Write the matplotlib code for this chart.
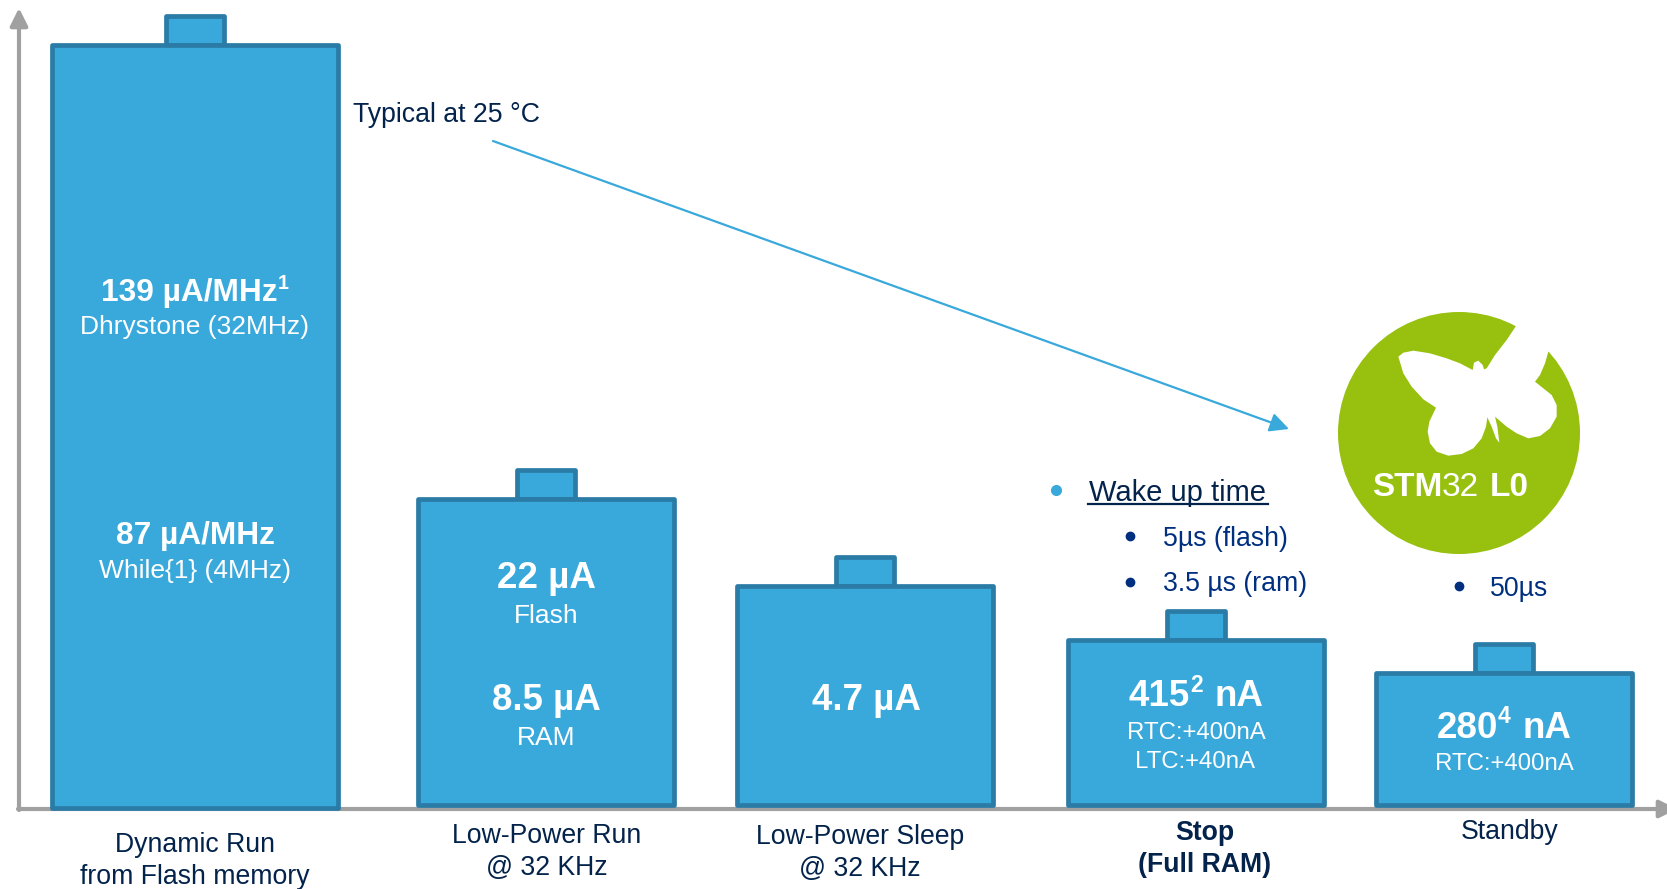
import matplotlib
matplotlib.use("Agg")
import matplotlib.pyplot as plt
from matplotlib.patches import Circle, Polygon
from matplotlib.transforms import Affine2D

W, H = 1667, 889

modes = ["Dynamic Run\nfrom Flash memory", "Low-Power Run\n@ 32 KHz", "Low-Power Sleep\n@ 32 KHz",
         "Stop\n(Full RAM)", "Standby"]
# bar heights are schematic, the chart has no numeric scale
bar_heights = [763, 306, 219.5, 165, 132]
bar_centers = [194.5, 545.5, 864.5, 1195.5, 1504]
bar_width = 256
first_bar_width = 286

BLUE = "#39A9DC"
EDGE = "#2A7CA6"
GREY = "#A0A0A0"
NAVY = "#03234B"
BULLET = "#002F80"
GREEN = "#97C10E"

plt.rcParams["font.family"] = ["Liberation Sans", "DejaVu Sans"]

fig = plt.figure(figsize=(W / 100, H / 100), dpi=100)
ax = fig.add_axes([0, 0, 1, 1])
ax.set_xlim(0, W)
ax.set_ylim(-84, 805)
ax.axis("off")

# pixel coordinates from the top left, for everything that is not a bar
px = Affine2D().scale(1 / W, -1 / H).translate(0, 1) + fig.transFigure


def arrow(start, end, color, lw, size, z=1):
    ax.annotate("", xy=end, xytext=start, xycoords=px, textcoords=px, zorder=z,
                annotation_clip=False,
                arrowprops=dict(arrowstyle=f"-|>,head_length={size},head_width={size * 0.5}",
                                color=color, lw=lw, shrinkA=0, shrinkB=0, mutation_scale=10))


def label(x, y, s, size=19, color="white", weight="normal", ha="center", **kw):
    return ax.text(x, y, s, transform=px, fontsize=size, color=color, weight=weight,
                   ha=ha, va="center", zorder=5, **kw)


def sup_label(x, y, before, sup, after, size):
    # bold value with a raised footnote digit, centred on x as one line
    r = fig.canvas.get_renderer()
    parts = [(before, size, 0), (sup, size * 0.62, -size * 0.42)]
    if after:
        parts.append((after, size, 0))
    items = [label(0, y + dy, s, sz, weight="bold", ha="left") for s, sz, dy in parts]
    widths = [t.get_window_extent(r).width for t in items]
    # a space before the unit is not measured on its own, so it is added here
    gap = size * 0.46 if after else 0
    left = x - (sum(widths) + gap) / 2
    for t, w, extra in zip(items, widths, [0, gap, 0]):
        t.set_x(left)
        left += w + extra


# axes
arrow((19, 810), (19, 8), GREY, 3, 1.05)
arrow((18, 809), (1677, 809), GREY, 3, 1.05)

# batteries
for i, (c, h) in enumerate(zip(bar_centers, bar_heights)):
    bottom = -2.5 if i == 0 else 0
    w = first_bar_width if i == 0 else bar_width
    ax.bar(c, h, width=w, bottom=bottom, color=BLUE, edgecolor=EDGE, linewidth=3.4, zorder=3,
           joinstyle="round")
    ax.bar(c, 29, width=58, bottom=bottom + h, color=BLUE, edgecolor=EDGE, linewidth=3.4, zorder=2,
           joinstyle="round")

# values inside the batteries
sup_label(195, 293, "139 µA/MHz", "1", "", 22.8)
label(195, 327, "Dhrystone (32MHz)", 19)
label(195, 536, "87 µA/MHz", 22.8, weight="bold")
label(195, 571, "While{1} (4MHz)", 19)
label(546, 579, "22 µA", 26.5, weight="bold")
label(546, 616, "Flash", 19)
label(546, 701, "8.5 µA", 26.5, weight="bold")
label(546, 738, "RAM", 19)
label(866, 701, "4.7 µA", 26.5, weight="bold")
sup_label(1196, 697, "415", "2", "nA", 26.5)
label(1196, 733, "RTC:+400nA", 17.3)
label(1195, 762, "LTC:+40nA", 17.3)
sup_label(1504, 728, "280", "4", "nA", 26.5)
label(1504, 764, "RTC:+400nA", 17.3)

# names below the axis
label_pos = [(195, 861), (547, 852), (860, 853), (1205, 849), (1510, 832)]
for name, (x, y) in zip(modes, label_pos):
    label(x, y, name, 19.2, color=NAVY, weight="bold" if name.startswith("Stop") else "normal",
          linespacing=1.3)

# note and arrow towards the logo
label(353, 115, "Typical at 25 °C", 19.2, color=NAVY, ha="left")
arrow((493, 141), (1289, 429), BLUE, 1.6, 1.15, z=4)

# wake up times
label(1089, 493, "Wake up time", 21, color=NAVY, ha="left")
ax.plot([1088, 1268], [504, 504], color=NAVY, lw=1.6, transform=px)
label(1163, 539, "5µs (flash)", 19.2, color=BULLET, ha="left")
label(1163, 584, "3.5 µs (ram)", 19.2, color=BULLET, ha="left")
label(1490, 589, "50µs", 19.2, color=BULLET, ha="left")
ax.plot([1056], [490], "o", color=BLUE, ms=7, transform=px)
ax.plot([1130, 1130, 1459], [536, 582, 586], "o", color=BULLET, ms=6, transform=px)

# logo
ax.add_patch(Circle((1459, 433), 121, facecolor=GREEN, edgecolor="none", transform=px, zorder=3))
wing = [(55, 140), (70, 128), (100, 122), (150, 130), (200, 145), (240, 160), (278, 180), (282, 158),
        (295, 152), (308, 165), (312, 178), (320, 175), (345, 135), (380, 90), (410, 45), (450, 35),
        (500, 70), (530, 115), (505, 125), (495, 160), (480, 195), (465, 215), (490, 235), (515, 255),
        (530, 285), (530, 320), (510, 355), (480, 378), (445, 385), (410, 370), (380, 350), (345, 320),
        (352, 350), (358, 398), (348, 385), (335, 350), (322, 322), (318, 350), (305, 385), (280, 415),
        (245, 432), (205, 437), (170, 425), (150, 400), (143, 365), (148, 335), (168, 293), (130, 268),
        (95, 230), (70, 190)]
wing = [(1380 + x / 3, 310 + y / 3) for x, y in wing]
ax.add_patch(Polygon(wing, closed=True, facecolor="white", edgecolor="none", transform=px, zorder=4))
label(1372, 488, "STM", 24, weight="bold", ha="left")
label(1442, 488, "32", 24, ha="left")
label(1490, 488, "L0", 24, weight="bold", ha="left")

fig.savefig("out.png", dpi=100)
